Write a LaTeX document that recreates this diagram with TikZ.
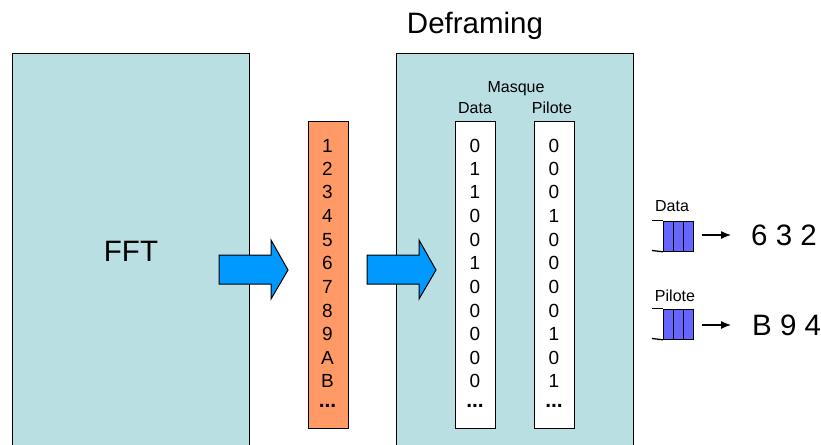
\documentclass[tikz,border=0pt]{standalone}
\usepackage{fontspec}
\setmainfont{Liberation Sans}
\usetikzlibrary{shapes.arrows,arrows.meta,positioning}
\definecolor{panel}{HTML}{B9DFE2}
\definecolor{orangecol}{HTML}{FF9966}
\definecolor{arrowblue}{HTML}{0099FF}
\definecolor{queueblue}{HTML}{6666FF}
\tikzset{
  x=1pt,y=-1pt,
  panelbox/.style={draw=black,fill=panel,line width=1pt,minimum width=237pt,minimum height=420pt,anchor=north west,inner sep=0pt},
  colbox/.style={draw=black,line width=1pt,minimum width=40pt,minimum height=307pt,anchor=north west,inner sep=0pt},
  bigtxt/.style={font=\fontsize{29.5}{29.5}\selectfont,inner sep=0pt},
  cell/.style={font=\fontsize{19}{19}\selectfont,inner sep=0pt,anchor=center},
  smalltxt/.style={font=\fontsize{16}{16}\selectfont,inner sep=0pt},
  cellend/.style={font=\bfseries\fontsize{21}{21}\selectfont,inner sep=0pt,anchor=center},
  fatarrow/.style={draw=black,fill=arrowblue,line width=1pt,line join=miter},
  qslot/.style={draw=black,fill=queueblue,line width=1.3pt,minimum width=10pt,minimum height=30pt,inner sep=0pt,anchor=north west},
  qline/.style={draw=black,line width=1.3pt},
  smallarrow/.style={draw=black,line width=1.2pt,-{Latex[length=10pt,width=8pt]}},
}
\begin{document}
\begin{tikzpicture}
\useasboundingbox (0,0) rectangle (821,444);
\clip (0,0) rectangle (821,444);
\node[panelbox] (fft) at (12,53) {};
\node[panelbox] (def) at (396,53) {};
\node[bigtxt] (ffttxt) at (131,251) {FFT};
\node[bigtxt] (deftxt) at (475,26) {Deframing};
\node[colbox,fill=orangecol,minimum height=307pt] (col) at (308,121) {};
\node[colbox,fill=white,minimum height=307pt] (maskd) at (455,121) {};
\node[colbox,fill=white,minimum height=307pt] (maskp) at (534,121) {};
\node[smalltxt] (masque) at (516,89) {Masque};
\node[smalltxt] (dlab) at (475,108) {Data};
\node[smalltxt] (plab) at (552,108) {Pilote};
% fat arrows
\draw[fatarrow] (219,255) -- (271,255) -- (271,240) -- (288,270) -- (271,299) -- (271,284) -- (219,284) -- cycle;
\draw[fatarrow] (367,255) -- (419,255) -- (419,240) -- (436,270) -- (419,299) -- (419,284) -- (367,284) -- cycle;
% cells
\foreach \t/\y/\n in {1/146/a,2/169/b,3/192/c,4/216/d,5/240/e,6/263/f,7/287/g,8/311/h,9/334/i,A/358/j,B/381/k}
  \node[cell] (c\n) at (327.5,\y) {\t};
\node[cellend] (cend) at (327.5,406) {...};
\foreach \t/\y/\n in {0/146/a,1/169/b,1/192/c,0/216/d,0/240/e,1/263/f,0/287/g,0/311/h,0/334/i,0/358/j,0/381/k}
  \node[cell] (d\n) at (475,\y) {\t};
\node[cellend] (dend) at (475,406) {...};
\foreach \t/\y/\n in {0/146/a,0/169/b,0/192/c,1/216/d,0/240/e,0/263/f,0/287/g,0/311/h,1/334/i,0/358/j,1/381/k}
  \node[cell] (p\n) at (554,\y) {\t};
\node[cellend] (pend) at (554,406) {...};
% queues
\node[smalltxt] (qd) at (672,206) {Data};
\foreach \x/\n in {663/a,673/b,683/c}
  \node[qslot] (qd\n) at (\x,220.5) {};
\coordinate (qdtl) at (652,220.5);
\coordinate (qdbl) at (652,250.5);
\draw[qline] (qdtl) -- (qda.north west);
\draw[qline] (qdbl) -- (qda.south west);
\node[smalltxt] (qp) at (675,296) {Pilote};
\foreach \x/\n in {663/a,673/b,683/c}
  \node[qslot] (qp\n) at (\x,308.5) {};
\coordinate (qptl) at (652,308.5);
\coordinate (qpbl) at (652,338.5);
\draw[qline] (qptl) -- (qpa.north west);
\draw[qline] (qpbl) -- (qpa.south west);
% output
\node[bigtxt,anchor=west] (outd) at (751,235) {6 3 2};
\node[bigtxt,anchor=west] (outp) at (752,325) {B 9 4};
\coordinate (sd) at (702,235);
\coordinate (sp) at (702,325);
\draw[smallarrow] (sd) -- (731,235);
\draw[smallarrow] (sp) -- (731,325);
\end{tikzpicture}
\end{document}
